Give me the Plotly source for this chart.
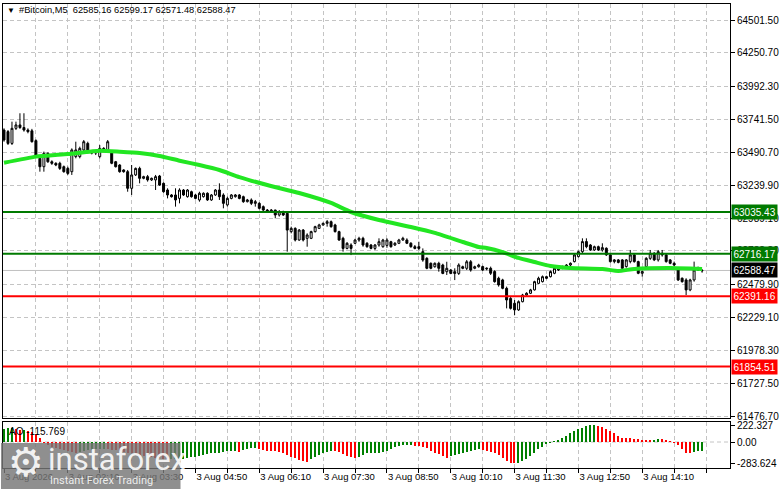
import plotly.graph_objects as go

# ---------------------------------------------------------------------------
# data (#Bitcoin, M5, 3 Aug)
# ---------------------------------------------------------------------------
symbol = "#Bitcoin,M5"
last_ohlc = [62585.16, 62599.17, 62571.48, 62588.47]

opens = [
    63661, 63649, 63559, 63674, 63700, 63680, 63661, 63655, 63580, 63445,
    63381, 63483, 63419, 63407, 63407, 63381, 63368, 63343, 63458, 63458,
    63509, 63559, 63496, 63485, 63458, 63521, 63500, 63496, 63419, 63394,
    63356, 63343, 63216, 63318, 63368, 63292, 63305, 63280, 63280, 63310,
    63254, 63203, 63165, 63165, 63139, 63203, 63152, 63190, 63165, 63127,
    63152, 63178, 63127, 63165, 63203, 63165, 63089, 63139, 63152, 63165,
    63152, 63114, 63127, 63101, 63101, 63076, 63050, 63037, 63050, 63012,
    63037, 63025, 62885, 62910, 62821, 62897, 62834, 62834, 62885, 62910,
    62936, 62948, 62961, 62936, 62885, 62834, 62757, 62783, 62796, 62821,
    62834, 62796, 62783, 62757, 62783, 62770, 62780, 62808, 62783, 62796,
    62821, 62821, 62796, 62770, 62770, 62732, 62681, 62643, 62617, 62643,
    62630, 62579, 62592, 62579, 62566, 62617, 62605, 62655, 62605, 62617,
    62618, 62600, 62605, 62580, 62529, 62516, 62452, 62375, 62338, 62287,
    62350, 62401, 62414, 62440, 62490, 62503, 62541, 62541, 62567, 62605,
    62605, 62618, 62630, 62656, 62694, 62732, 62809, 62783, 62745, 62770,
    62745, 62758, 62707, 62656, 62669, 62669, 62618, 62656, 62707, 62656,
    62567, 62618, 62681, 62720, 62669, 62720, 62707, 62669, 62643, 62592,
    62529, 62516, 62440, 62516, 62592, 62585.16,
]
highs = [
    63674, 63661, 63725, 63725, 63789, 63789, 63674, 63670, 63590, 63450,
    63496, 63490, 63430, 63415, 63419, 63390, 63381, 63521, 63572, 63534,
    63585, 63572, 63505, 63510, 63547, 63530, 63585, 63505, 63425, 63400,
    63362, 63356, 63394, 63375, 63381, 63312, 63318, 63298, 63318, 63318,
    63260, 63216, 63172, 63216, 63216, 63210, 63210, 63198, 63172, 63190,
    63185, 63185, 63172, 63210, 63254, 63178, 63152, 63172, 63172, 63172,
    63160, 63135, 63139, 63127, 63110, 63085, 63058, 63058, 63052, 63050,
    63045, 63037, 62923, 62918, 62905, 62905, 62872, 62892, 62930, 62945,
    62955, 62974, 62970, 62945, 62892, 62846, 62805, 62796, 62830, 62846,
    62846, 62805, 62790, 62790, 62834, 62830, 62834, 62815, 62805, 62830,
    62846, 62834, 62805, 62783, 62808, 62757, 62690, 62650, 62650, 62655,
    62640, 62655, 62600, 62605, 62643, 62625, 62668, 62668, 62625, 62640,
    62625, 62612, 62618, 62590, 62541, 62525, 62465, 62385, 62363, 62360,
    62410, 62422, 62448, 62510, 62541, 62550, 62548, 62588, 62612, 62612,
    62625, 62637, 62650, 62715, 62740, 62834, 62834, 62790, 62778, 62778,
    62796, 62765, 62715, 62676, 62676, 62676, 62676, 62745, 62715, 62663,
    62588, 62690, 62745, 62728, 62745, 62745, 62715, 62676, 62656, 62600,
    62535, 62529, 62525, 62656, 62618, 62599.17,
]
lows = [
    63572, 63547, 63547, 63661, 63670, 63649, 63636, 63565, 63458, 63343,
    63343, 63410, 63395, 63385, 63356, 63335, 63318, 63318, 63445, 63445,
    63496, 63483, 63475, 63470, 63445, 63500, 63490, 63400, 63375, 63335,
    63335, 63190, 63165, 63310, 63254, 63285, 63267, 63272, 63203, 63235,
    63182, 63139, 63145, 63076, 63101, 63158, 63145, 63145, 63132, 63114,
    63145, 63120, 63120, 63158, 63127, 63063, 63076, 63132, 63145, 63132,
    63105, 63108, 63088, 63076, 63055, 63040, 63030, 63030, 62987, 63000,
    63005, 62732, 62872, 62810, 62815, 62810, 62770, 62828, 62878, 62905,
    62930, 62923, 62915, 62878, 62815, 62732, 62750, 62706, 62790, 62808,
    62770, 62762, 62750, 62745, 62770, 62762, 62762, 62762, 62775, 62790,
    62815, 62790, 62762, 62750, 62745, 62655, 62598, 62598, 62610, 62579,
    62560, 62554, 62560, 62515, 62554, 62598, 62592, 62579, 62598, 62610,
    62585, 62590, 62554, 62495, 62465, 62445, 62299, 62290, 62248, 62280,
    62345, 62395, 62408, 62435, 62485, 62497, 62522, 62535, 62560, 62585,
    62598, 62610, 62622, 62650, 62688, 62720, 62758, 62738, 62738, 62738,
    62732, 62700, 62648, 62643, 62643, 62598, 62610, 62643, 62648, 62560,
    62541, 62610, 62669, 62660, 62656, 62694, 62648, 62636, 62622, 62508,
    62495, 62401, 62430, 62503, 62585, 62571.48,
]
closes = [
    63585, 63559, 63674, 63700, 63680, 63661, 63649, 63572, 63470, 63381,
    63483, 63419, 63407, 63394, 63368, 63343, 63330, 63509, 63509, 63521,
    63572, 63496, 63485, 63495, 63521, 63509, 63572, 63407, 63381, 63343,
    63343, 63216, 63318, 63368, 63292, 63305, 63280, 63292, 63305, 63241,
    63190, 63165, 63152, 63127, 63203, 63165, 63203, 63152, 63139, 63178,
    63178, 63127, 63165, 63203, 63152, 63101, 63139, 63165, 63165, 63139,
    63114, 63127, 63101, 63114, 63063, 63050, 63037, 63050, 63012, 63037,
    63012, 62897, 62910, 62821, 62897, 62821, 62859, 62885, 62923, 62936,
    62948, 62961, 62923, 62885, 62821, 62757, 62796, 62757, 62821, 62834,
    62783, 62770, 62757, 62783, 62808, 62821, 62821, 62770, 62796, 62821,
    62834, 62796, 62770, 62757, 62757, 62668, 62605, 62605, 62643, 62605,
    62566, 62605, 62566, 62566, 62630, 62605, 62655, 62592, 62617, 62630,
    62592, 62605, 62567, 62503, 62478, 62452, 62363, 62299, 62287, 62350,
    62401, 62414, 62440, 62503, 62529, 62541, 62529, 62580, 62605, 62592,
    62618, 62630, 62643, 62707, 62732, 62809, 62770, 62745, 62770, 62745,
    62763, 62707, 62656, 62669, 62650, 62605, 62669, 62707, 62656, 62567,
    62580, 62681, 62720, 62669, 62732, 62707, 62656, 62643, 62630, 62516,
    62503, 62440, 62516, 62592, 62610, 62588.47,
]

# Awesome Oscillator histogram, one value per bar
ao = [
    175, 185, 190, 170, 160, 165, 150, 130, 110, 49,
    -10, -35, -60, -80, -95, -105, -120, -135, -140, -130,
    -120, -108, -100, -95, -90, -88, -92, -100, -112, -125,
    -130, -140, -150, -160, -170, -180, -190, -200, -210, -218,
    -225, -230, -228, -226, -224, -222, -215, -205, -195, -186,
    -173, -164, -151, -148, -142, -130, -125, -120, -115, -128,
    -106, -97, -84, -82, -97, -106, -115, -117, -120, -128,
    -151, -173, -195, -217, -239, -252, -262, -230, -204, -173,
    -151, -128, -115, -120, -137, -159, -186, -204, -217, -195,
    -173, -151, -148, -142, -140, -128, -120, -97, -62, -53,
    -44, -43, -42, -48, -53, -62, -75, -120, -142, -164,
    -186, -208, -186, -177, -164, -142, -133, -120, -106, -97,
    -106, -120, -133, -151, -177, -208, -253, -275, -283.624, -275,
    -253, -221, -186, -142, -97, -62, -31, -9, 13, 27,
    58, 80, 115, 146, 168, 190, 213, 220, 222.327, 218,
    204, 177, 146, 115, 80, 58, 55, 52, 44, 35,
    27, 22, 20, 27, 44, 35, 27, 13, -9, -44,
    -89, -142, -151, -133, -125, -115.769,
]

# moving average line, sampled at a few bars
ma_bars = [0, 8, 16, 24, 29, 34, 39, 44, 49, 54, 59, 66, 74, 82, 87, 94,
           102, 108, 115, 119, 121, 125, 129, 133, 137, 142, 150, 154, 158,
           167, 175]
ma_vals = [63411, 63458, 63478, 63503, 63496, 63486, 63463, 63427, 63394,
           63356, 63302, 63241, 63180, 63104, 63035, 62974, 62920, 62875,
           62806, 62768, 62760, 62729, 62684, 62653, 62623, 62607, 62600,
           62584, 62600, 62607, 62600]

levels_green = [63035.43, 62716.17]
levels_red = [62391.16, 61854.51]
bid = 62588.47

price_ticks = [64501.50, 64250.70, 63992.30, 63741.50, 63490.70, 63239.90,
               62989.10, 62738.30, 62479.90, 62229.10, 61978.30, 61727.50,
               61476.70]
ao_ticks = [222.327, 0.0, -283.624]
ao_tick_text = ["222.327", "0.00", "-283.624"]
time_labels = ["3 Aug 2026", "3 Aug 02:10", "3 Aug 03:30", "3 Aug 04:50",
               "3 Aug 06:10", "3 Aug 07:30", "3 Aug 08:50", "3 Aug 10:10",
               "3 Aug 11:30", "3 Aug 12:50", "3 Aug 14:10"]

# ---------------------------------------------------------------------------
# styling
# ---------------------------------------------------------------------------
W, H = 781, 489
ML, MR, MT, MB = 2, 50, 4, 21
FONT = "Liberation Sans, Arial, sans-serif"
FS = 10
GRID = "#c4c4c4"
DASH = "4px,3px"
DKGREEN = "#007a00"
RED = "#ff0000"
MA_COLOR = "#22e622"

plot_w = W - ML - MR
plot_h = H - MT - MB


def px_x(px):
    return (px - ML) / plot_w


def px_y(py):
    return (H - MB - py) / plot_h


bars = list(range(len(closes)))
grid_vals = list(range(0, 177, 8))
grid_text = []
for v in grid_vals:
    k = v // 16
    grid_text.append(time_labels[k] if v % 16 == 0 and k < len(time_labels) else "")

ao_colors = []
for i, v in enumerate(ao):
    ao_colors.append("#008000" if i == 0 or v > ao[i - 1] else "#ff0000")

fig = go.Figure()
fig.add_trace(go.Candlestick(
    x=bars, open=opens, high=highs, low=lows, close=closes,
    increasing=dict(line=dict(color="black", width=1), fillcolor="white"),
    decreasing=dict(line=dict(color="black", width=1), fillcolor="black"),
    whiskerwidth=0, showlegend=False, xaxis="x", yaxis="y",
))
fig.add_trace(go.Scatter(
    x=ma_bars, y=ma_vals, mode="lines", showlegend=False,
    line=dict(color=MA_COLOR, width=4, shape="spline", smoothing=0.5),
    xaxis="x", yaxis="y", hoverinfo="skip",
))
fig.add_trace(go.Bar(
    x=bars, y=ao, marker=dict(color=ao_colors, line=dict(width=0)),
    width=0.3, showlegend=False, xaxis="x2", yaxis="y2",
))

shapes = []
shapes.append(dict(type="line", xref="paper", x0=0, x1=1, yref="y", y0=bid, y1=bid,
                   line=dict(color="#c0c0c0", width=1), layer="below"))
for lv in levels_green:
    shapes.append(dict(type="line", xref="paper", x0=0, x1=1, yref="y", y0=lv, y1=lv,
                       line=dict(color=DKGREEN, width=2)))
for lv in levels_red:
    shapes.append(dict(type="line", xref="paper", x0=0, x1=1, yref="y", y0=lv, y1=lv,
                       line=dict(color=RED, width=2)))
shapes.append(dict(type="line", xref="paper", x0=0, x1=1, yref="y2", y0=0, y1=0,
                   line=dict(color=GRID, width=1, dash=DASH), layer="below"))
# instaforex watermark box
shapes.append(dict(type="rect", xref="paper", yref="paper",
                   x0=px_x(0), x1=px_x(180), y0=px_y(489), y1=px_y(443),
                   fillcolor="rgba(118,118,118,0.82)", line=dict(width=0),
                   layer="above"))

annotations = []
annotations.append(dict(xref="paper", yref="paper", x=px_x(4), y=px_y(10),
                        xanchor="left", yanchor="middle", showarrow=False,
                        text="▼", font=dict(family=FONT, size=8, color="black")))
annotations.append(dict(xref="paper", yref="paper", x=px_x(16), y=px_y(10),
                        xanchor="left", yanchor="middle", showarrow=False,
                        text=symbol + "\u00a0\u00a0" + " ".join(f"{v:.2f}" for v in last_ohlc),
                        font=dict(family=FONT, size=9.3, color="black")))
annotations.append(dict(xref="paper", yref="paper", x=px_x(6), y=px_y(431),
                        xanchor="left", yanchor="middle", showarrow=False,
                        text=f"AO {ao[-1]:.3f}",
                        font=dict(family=FONT, size=FS, color="black")))


def price_box(value, color):
    return dict(xref="paper", yref="y", x=1, y=value, xanchor="left",
                yanchor="middle", xshift=1, showarrow=False,
                text=f"{value:.2f}", bgcolor=color, borderpad=1.5,
                font=dict(family=FONT, size=FS, color="white"))


for lv in levels_green:
    annotations.append(price_box(lv, DKGREEN))
for lv in levels_red:
    annotations.append(price_box(lv, RED))
annotations.append(price_box(bid, "black"))

# watermark text
annotations.append(dict(xref="paper", yref="paper", x=px_x(25), y=px_y(462),
                        xanchor="center", yanchor="middle", showarrow=False,
                        text="⚙", font=dict(family="DejaVu Sans", size=40,
                                             color="rgba(255,255,255,0.9)")))
annotations.append(dict(xref="paper", yref="paper", x=px_x(45), y=px_y(459),
                        xanchor="left", yanchor="middle", showarrow=False,
                        text="instaforex", font=dict(family="Roboto", size=31,
                                                     color="rgba(255,255,255,0.9)")))
annotations.append(dict(xref="paper", yref="paper", x=px_x(47), y=px_y(481),
                        xanchor="left", yanchor="middle", showarrow=False,
                        text="Instant Forex Trading",
                        font=dict(family="Roboto", size=11,
                                  color="rgba(255,255,255,0.85)")))

axis_common = dict(showline=True, mirror=True, linecolor="black", linewidth=1,
                   zeroline=False, fixedrange=True,
                   tickfont=dict(family=FONT, size=FS, color="black"))

main_bottom = px_y(418)
ao_top = px_y(422)
x_range = [-0.25, (W - MR - 3) / 4]

fig.update_layout(
    width=W, height=H,
    margin=dict(l=ML, r=MR, t=MT, b=MB),
    paper_bgcolor="white", plot_bgcolor="white",
    showlegend=False, bargap=0,
    xaxis=dict(domain=[0, 1], anchor="y", range=x_range, tickvals=grid_vals,
               showticklabels=False, ticks="", showgrid=True, gridcolor=GRID,
               griddash=DASH, gridwidth=1, rangeslider=dict(visible=False),
               **axis_common),
    xaxis2=dict(domain=[0, 1], anchor="y2", range=x_range, tickvals=grid_vals,
                ticktext=grid_text, ticklabelposition="outside right",
                ticks="outside", ticklen=4, tickcolor="black",
                showgrid=True, gridcolor=GRID, griddash=DASH, gridwidth=1,
                **axis_common),
    yaxis=dict(domain=[main_bottom, 1], anchor="x", side="right",
               range=[61461.6, 64623.7], tickvals=price_ticks,
               ticktext=[f"{v:.2f}" for v in price_ticks],
               ticks="outside", ticklen=4, tickcolor="black",
               showgrid=True, gridcolor=GRID, griddash=DASH, gridwidth=1,
               **axis_common),
    yaxis2=dict(domain=[0, ao_top], anchor="x2", side="right",
                range=[-345.8, 266], tickvals=ao_ticks, ticktext=ao_tick_text,
                ticks="outside", ticklen=4, tickcolor="black", showgrid=False,
                **axis_common),
    shapes=shapes,
    annotations=annotations,
)
fig.update_xaxes(tickfont=dict(family=FONT, size=9.5, color="black"), selector=dict(anchor="y2"))

# the page's default body margin would push the 781x489 figure off the window
fig.write_html("out.html",
               config={"displayModeBar": False},
               post_script="document.body.style.margin='0';"
                           "document.body.style.overflow='hidden';")
